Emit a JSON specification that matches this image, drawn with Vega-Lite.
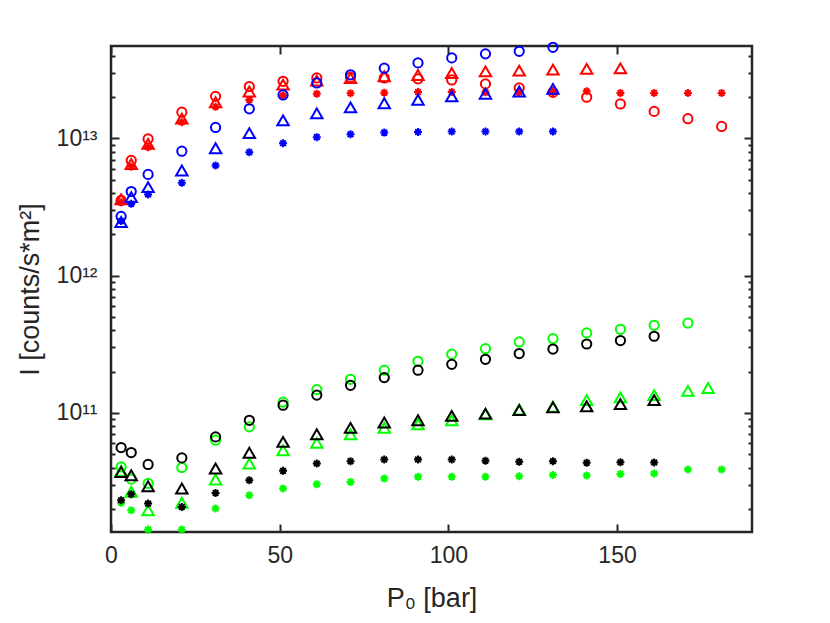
{
  "$schema": "https://vega.github.io/schema/vega-lite/v6.json",
  "autosize": "none",
  "width": 641,
  "height": 486,
  "padding": {"left": 111, "top": 46, "right": 78, "bottom": 91},
  "background": "white",
  "config": {
    "view": {"stroke": "#262626", "strokeWidth": 2.5, "fill": null},
    "font": "Liberation Sans",
    "axis": {
      "grid": false,
      "zindex": 1,
      "domain": false,
      "tickColor": "#262626",
      "tickWidth": 2,
      "labelColor": "#262626",
      "titleColor": "#262626",
      "labelFont": "Liberation Sans",
      "titleFont": "Liberation Sans",
      "labelFontSize": 23,
      "titleFontSize": 27,
      "titleFontWeight": "normal"
    }
  },
  "data": {
    "values": [
      {"P":3,"I":4.05e10,"c":"g","m":"o"},{"P":6,"I":3.3e10,"c":"g","m":"o"},{"P":11,"I":3.07e10,"c":"g","m":"o"},{"P":21,"I":4.01e10,"c":"g","m":"o"},{"P":31,"I":6.34e10,"c":"g","m":"o"},{"P":41,"I":7.93e10,"c":"g","m":"o"},{"P":51,"I":1.2e11,"c":"g","m":"o"},{"P":61,"I":1.48e11,"c":"g","m":"o"},{"P":71,"I":1.76e11,"c":"g","m":"o"},{"P":81,"I":2.05e11,"c":"g","m":"o"},{"P":91,"I":2.38e11,"c":"g","m":"o"},{"P":101,"I":2.68e11,"c":"g","m":"o"},{"P":111,"I":2.94e11,"c":"g","m":"o"},{"P":121,"I":3.29e11,"c":"g","m":"o"},{"P":131,"I":3.48e11,"c":"g","m":"o"},{"P":141,"I":3.83e11,"c":"g","m":"o"},{"P":151,"I":4.07e11,"c":"g","m":"o"},{"P":161,"I":4.35e11,"c":"g","m":"o"},{"P":171,"I":4.52e11,"c":"g","m":"o"},
      {"P":3,"I":3.8e10,"c":"g","m":"t"},{"P":6,"I":2.67e10,"c":"g","m":"t"},{"P":11,"I":1.96e10,"c":"g","m":"t"},{"P":21,"I":2.22e10,"c":"g","m":"t"},{"P":31,"I":3.28e10,"c":"g","m":"t"},{"P":41,"I":4.28e10,"c":"g","m":"t"},{"P":51,"I":5.35e10,"c":"g","m":"t"},{"P":61,"I":6.06e10,"c":"g","m":"t"},{"P":71,"I":7.0e10,"c":"g","m":"t"},{"P":81,"I":7.79e10,"c":"g","m":"t"},{"P":91,"I":8.28e10,"c":"g","m":"t"},{"P":101,"I":8.85e10,"c":"g","m":"t"},{"P":111,"I":9.8e10,"c":"g","m":"t"},{"P":121,"I":1.06e11,"c":"g","m":"t"},{"P":131,"I":1.11e11,"c":"g","m":"t"},{"P":141,"I":1.24e11,"c":"g","m":"t"},{"P":151,"I":1.3e11,"c":"g","m":"t"},{"P":161,"I":1.35e11,"c":"g","m":"t"},{"P":171,"I":1.45e11,"c":"g","m":"t"},{"P":177,"I":1.52e11,"c":"g","m":"t"},
      {"P":3,"I":2.22e10,"c":"g","m":"s"},{"P":6,"I":1.96e10,"c":"g","m":"s"},{"P":11,"I":1.42e10,"c":"g","m":"s"},{"P":21,"I":1.42e10,"c":"g","m":"s"},{"P":31,"I":2.02e10,"c":"g","m":"s"},{"P":41,"I":2.52e10,"c":"g","m":"s"},{"P":51,"I":2.82e10,"c":"g","m":"s"},{"P":61,"I":3.03e10,"c":"g","m":"s"},{"P":71,"I":3.15e10,"c":"g","m":"s"},{"P":81,"I":3.33e10,"c":"g","m":"s"},{"P":91,"I":3.43e10,"c":"g","m":"s"},{"P":101,"I":3.43e10,"c":"g","m":"s"},{"P":111,"I":3.43e10,"c":"g","m":"s"},{"P":121,"I":3.46e10,"c":"g","m":"s"},{"P":131,"I":3.53e10,"c":"g","m":"s"},{"P":141,"I":3.5e10,"c":"g","m":"s"},{"P":151,"I":3.6e10,"c":"g","m":"s"},{"P":161,"I":3.63e10,"c":"g","m":"s"},{"P":171,"I":3.88e10,"c":"g","m":"s"},{"P":181,"I":3.88e10,"c":"g","m":"s"},
      {"P":3,"I":5.6e10,"c":"k","m":"o"},{"P":6,"I":5.15e10,"c":"k","m":"o"},{"P":11,"I":4.22e10,"c":"k","m":"o"},{"P":21,"I":4.71e10,"c":"k","m":"o"},{"P":31,"I":6.7e10,"c":"k","m":"o"},{"P":41,"I":8.85e10,"c":"k","m":"o"},{"P":51,"I":1.14e11,"c":"k","m":"o"},{"P":61,"I":1.35e11,"c":"k","m":"o"},{"P":71,"I":1.59e11,"c":"k","m":"o"},{"P":81,"I":1.81e11,"c":"k","m":"o"},{"P":91,"I":2.05e11,"c":"k","m":"o"},{"P":101,"I":2.26e11,"c":"k","m":"o"},{"P":111,"I":2.46e11,"c":"k","m":"o"},{"P":121,"I":2.71e11,"c":"k","m":"o"},{"P":131,"I":2.92e11,"c":"k","m":"o"},{"P":141,"I":3.18e11,"c":"k","m":"o"},{"P":151,"I":3.37e11,"c":"k","m":"o"},{"P":161,"I":3.62e11,"c":"k","m":"o"},
      {"P":3,"I":3.72e10,"c":"k","m":"t"},{"P":6,"I":3.52e10,"c":"k","m":"t"},{"P":11,"I":2.93e10,"c":"k","m":"t"},{"P":21,"I":2.82e10,"c":"k","m":"t"},{"P":31,"I":3.94e10,"c":"k","m":"t"},{"P":41,"I":5.13e10,"c":"k","m":"t"},{"P":51,"I":6.16e10,"c":"k","m":"t"},{"P":61,"I":7.0e10,"c":"k","m":"t"},{"P":71,"I":7.79e10,"c":"k","m":"t"},{"P":81,"I":8.52e10,"c":"k","m":"t"},{"P":91,"I":8.85e10,"c":"k","m":"t"},{"P":101,"I":9.53e10,"c":"k","m":"t"},{"P":111,"I":9.9e10,"c":"k","m":"t"},{"P":121,"I":1.05e11,"c":"k","m":"t"},{"P":131,"I":1.1e11,"c":"k","m":"t"},{"P":141,"I":1.12e11,"c":"k","m":"t"},{"P":151,"I":1.16e11,"c":"k","m":"t"},{"P":161,"I":1.24e11,"c":"k","m":"t"},
      {"P":3,"I":2.32e10,"c":"k","m":"s"},{"P":6,"I":2.56e10,"c":"k","m":"s"},{"P":11,"I":2.19e10,"c":"k","m":"s"},{"P":21,"I":2.07e10,"c":"k","m":"s"},{"P":31,"I":2.62e10,"c":"k","m":"s"},{"P":41,"I":3.24e10,"c":"k","m":"s"},{"P":51,"I":3.79e10,"c":"k","m":"s"},{"P":61,"I":4.29e10,"c":"k","m":"s"},{"P":71,"I":4.46e10,"c":"k","m":"s"},{"P":81,"I":4.58e10,"c":"k","m":"s"},{"P":91,"I":4.58e10,"c":"k","m":"s"},{"P":101,"I":4.58e10,"c":"k","m":"s"},{"P":111,"I":4.49e10,"c":"k","m":"s"},{"P":121,"I":4.41e10,"c":"k","m":"s"},{"P":131,"I":4.46e10,"c":"k","m":"s"},{"P":141,"I":4.34e10,"c":"k","m":"s"},{"P":151,"I":4.38e10,"c":"k","m":"s"},{"P":161,"I":4.36e10,"c":"k","m":"s"},
      {"P":3,"I":3.53e12,"c":"r","m":"o"},{"P":6,"I":6.9e12,"c":"r","m":"o"},{"P":11,"I":9.9e12,"c":"r","m":"o"},{"P":21,"I":1.55e13,"c":"r","m":"o"},{"P":31,"I":2.02e13,"c":"r","m":"o"},{"P":41,"I":2.38e13,"c":"r","m":"o"},{"P":51,"I":2.6e13,"c":"r","m":"o"},{"P":61,"I":2.75e13,"c":"r","m":"o"},{"P":71,"I":2.78e13,"c":"r","m":"o"},{"P":81,"I":2.75e13,"c":"r","m":"o"},{"P":91,"I":2.71e13,"c":"r","m":"o"},{"P":101,"I":2.66e13,"c":"r","m":"o"},{"P":111,"I":2.49e13,"c":"r","m":"o"},{"P":121,"I":2.33e13,"c":"r","m":"o"},{"P":131,"I":2.16e13,"c":"r","m":"o"},{"P":141,"I":1.99e13,"c":"r","m":"o"},{"P":151,"I":1.78e13,"c":"r","m":"o"},{"P":161,"I":1.57e13,"c":"r","m":"o"},{"P":171,"I":1.39e13,"c":"r","m":"o"},{"P":181,"I":1.22e13,"c":"r","m":"o"},
      {"P":3,"I":3.6e12,"c":"r","m":"t"},{"P":6,"I":6.5e12,"c":"r","m":"t"},{"P":11,"I":9.1e12,"c":"r","m":"t"},{"P":21,"I":1.39e13,"c":"r","m":"t"},{"P":31,"I":1.83e13,"c":"r","m":"t"},{"P":41,"I":2.19e13,"c":"r","m":"t"},{"P":51,"I":2.46e13,"c":"r","m":"t"},{"P":61,"I":2.63e13,"c":"r","m":"t"},{"P":71,"I":2.74e13,"c":"r","m":"t"},{"P":81,"I":2.83e13,"c":"r","m":"t"},{"P":91,"I":2.89e13,"c":"r","m":"t"},{"P":101,"I":2.99e13,"c":"r","m":"t"},{"P":111,"I":3.07e13,"c":"r","m":"t"},{"P":121,"I":3.11e13,"c":"r","m":"t"},{"P":131,"I":3.16e13,"c":"r","m":"t"},{"P":141,"I":3.2e13,"c":"r","m":"t"},{"P":151,"I":3.23e13,"c":"r","m":"t"},
      {"P":3,"I":3.43e12,"c":"r","m":"s"},{"P":6,"I":6.2e12,"c":"r","m":"s"},{"P":11,"I":8.6e12,"c":"r","m":"s"},{"P":21,"I":1.31e13,"c":"r","m":"s"},{"P":31,"I":1.7e13,"c":"r","m":"s"},{"P":41,"I":1.9e13,"c":"r","m":"s"},{"P":51,"I":2.05e13,"c":"r","m":"s"},{"P":61,"I":2.11e13,"c":"r","m":"s"},{"P":71,"I":2.13e13,"c":"r","m":"s"},{"P":81,"I":2.15e13,"c":"r","m":"s"},{"P":91,"I":2.17e13,"c":"r","m":"s"},{"P":101,"I":2.17e13,"c":"r","m":"s"},{"P":111,"I":2.16e13,"c":"r","m":"s"},{"P":121,"I":2.16e13,"c":"r","m":"s"},{"P":131,"I":2.17e13,"c":"r","m":"s"},{"P":141,"I":2.2e13,"c":"r","m":"s"},{"P":151,"I":2.14e13,"c":"r","m":"s"},{"P":161,"I":2.14e13,"c":"r","m":"s"},{"P":171,"I":2.14e13,"c":"r","m":"s"},{"P":181,"I":2.14e13,"c":"r","m":"s"},
      {"P":3,"I":2.7e12,"c":"b","m":"o"},{"P":6,"I":4.1e12,"c":"b","m":"o"},{"P":11,"I":5.46e12,"c":"b","m":"o"},{"P":21,"I":8.06e12,"c":"b","m":"o"},{"P":31,"I":1.2e13,"c":"b","m":"o"},{"P":41,"I":1.64e13,"c":"b","m":"o"},{"P":51,"I":2.07e13,"c":"b","m":"o"},{"P":61,"I":2.53e13,"c":"b","m":"o"},{"P":71,"I":2.9e13,"c":"b","m":"o"},{"P":81,"I":3.24e13,"c":"b","m":"o"},{"P":91,"I":3.54e13,"c":"b","m":"o"},{"P":101,"I":3.85e13,"c":"b","m":"o"},{"P":111,"I":4.12e13,"c":"b","m":"o"},{"P":121,"I":4.3e13,"c":"b","m":"o"},{"P":131,"I":4.6e13,"c":"b","m":"o"},
      {"P":3,"I":2.46e12,"c":"b","m":"t"},{"P":6,"I":3.73e12,"c":"b","m":"t"},{"P":11,"I":4.41e12,"c":"b","m":"t"},{"P":21,"I":5.83e12,"c":"b","m":"t"},{"P":31,"I":8.47e12,"c":"b","m":"t"},{"P":41,"I":1.09e13,"c":"b","m":"t"},{"P":51,"I":1.35e13,"c":"b","m":"t"},{"P":61,"I":1.52e13,"c":"b","m":"t"},{"P":71,"I":1.68e13,"c":"b","m":"t"},{"P":81,"I":1.8e13,"c":"b","m":"t"},{"P":91,"I":1.91e13,"c":"b","m":"t"},{"P":101,"I":2.02e13,"c":"b","m":"t"},{"P":111,"I":2.11e13,"c":"b","m":"t"},{"P":121,"I":2.19e13,"c":"b","m":"t"},{"P":131,"I":2.29e13,"c":"b","m":"t"},
      {"P":3,"I":2.5e12,"c":"b","m":"s"},{"P":6,"I":3.34e12,"c":"b","m":"s"},{"P":11,"I":3.9e12,"c":"b","m":"s"},{"P":21,"I":4.75e12,"c":"b","m":"s"},{"P":31,"I":6.34e12,"c":"b","m":"s"},{"P":41,"I":7.93e12,"c":"b","m":"s"},{"P":51,"I":9.22e12,"c":"b","m":"s"},{"P":61,"I":1.02e13,"c":"b","m":"s"},{"P":71,"I":1.07e13,"c":"b","m":"s"},{"P":81,"I":1.1e13,"c":"b","m":"s"},{"P":91,"I":1.11e13,"c":"b","m":"s"},{"P":101,"I":1.12e13,"c":"b","m":"s"},{"P":111,"I":1.12e13,"c":"b","m":"s"},{"P":121,"I":1.12e13,"c":"b","m":"s"},{"P":131,"I":1.12e13,"c":"b","m":"s"}
    ]
  },
  "layer": [
    {
      "mark": {"type": "point", "filled": false, "strokeWidth": 2, "opacity": 1},
      "encoding": {
        "x": {
          "field": "P", "type": "quantitative",
          "scale": {"domain": [0, 190], "nice": false, "zero": false},
          "axis": {
            "orient": "bottom", "values": [0, 50, 100, 150],
            "offset": -8, "tickSize": 8, "labelPadding": 12, "labelFlush": false,
            "title": "P₀ [bar]", "titlePadding": 18
          }
        },
        "y": {
          "field": "I", "type": "quantitative",
          "scale": {"type": "log", "domain": [1.36e10, 4.7e13], "nice": false},
          "axis": {
            "orient": "left",
            "values": [1e11, 1e12, 1e13],
            "labelExpr": "datum.value == 1e11 ? '10¹¹' : datum.value == 1e12 ? '10¹²' : datum.value == 1e13 ? '10¹³' : ''",
            "offset": -8, "tickSize": 8, "labelPadding": 14,
            "title": "I [counts/s*m²]", "titlePadding": 12
          }
        },
        "color": {
          "field": "c", "type": "nominal",
          "scale": {"domain": ["g", "k", "r", "b"], "range": ["#00FF00", "#000000", "#FF0000", "#0000FF"]},
          "legend": null
        },
        "shape": {
          "field": "m", "type": "nominal",
          "scale": {"domain": ["o", "t", "s"], "range": ["circle", "triangle-up", "M0,-1L0,1M-1,0L1,0M-0.7,-0.7L0.7,0.7M-0.7,0.7L0.7,-0.7"]},
          "legend": null
        },
        "size": {
          "field": "m", "type": "nominal",
          "scale": {"type": "ordinal", "domain": ["o", "t", "s"], "range": [85, 130, 64]},
          "legend": null
        }
      }
    },
    {
      "mark": {"type": "point", "opacity": 0},
      "encoding": {
        "x": {
          "field": "P", "type": "quantitative",
          "axis": {"orient": "top", "values": [0, 50, 100, 150], "offset": -8, "tickSize": 8, "labels": false, "title": null}
        },
        "y": {
          "field": "I", "type": "quantitative",
          "axis": {"orient": "right", "values": [1e11, 1e12, 1e13], "offset": -8, "tickSize": 8, "labels": false, "title": null}
        }
      }
    },
    {
      "mark": {"type": "point", "opacity": 0},
      "encoding": {
        "x": {"field": "P", "type": "quantitative", "axis": null},
        "y": {
          "field": "I", "type": "quantitative",
          "axis": {
            "orient": "left",
            "values": [2e10,3e10,4e10,5e10,6e10,7e10,8e10,9e10,2e11,3e11,4e11,5e11,6e11,7e11,8e11,9e11,2e12,3e12,4e12,5e12,6e12,7e12,8e12,9e12,2e13,3e13,4e13],
            "offset": -4, "tickSize": 4, "labels": false, "title": null
          }
        }
      }
    },
    {
      "mark": {"type": "point", "opacity": 0},
      "encoding": {
        "x": {"field": "P", "type": "quantitative", "axis": null},
        "y": {
          "field": "I", "type": "quantitative",
          "axis": {
            "orient": "right",
            "values": [2e10,3e10,4e10,5e10,6e10,7e10,8e10,9e10,2e11,3e11,4e11,5e11,6e11,7e11,8e11,9e11,2e12,3e12,4e12,5e12,6e12,7e12,8e12,9e12,2e13,3e13,4e13],
            "offset": -4, "tickSize": 4, "labels": false, "title": null
          }
        }
      }
    }
  ],
  "resolve": {"axis": {"x": "independent", "y": "independent"}}
}
